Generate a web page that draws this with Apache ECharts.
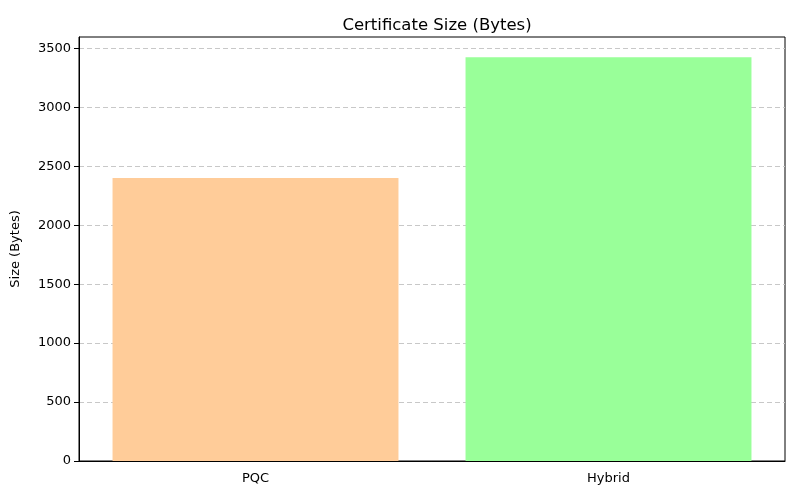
<!DOCTYPE html>
<html><head><meta charset="utf-8">
<script src="https://cdn.jsdelivr.net/npm/echarts@6/dist/echarts.min.js"></script>
<style>html,body{margin:0;padding:0;background:#fff}#c{width:800px;height:500px}</style>
</head><body><div id="c"></div>
<script>
const categories = ["PQC", "Hybrid"];
const sizes = [2400, 3425];
const barColors = ["#ffcc99", "#99ff99"];
const yTicks = [0, 500, 1000, 1500, 2000, 2500, 3000, 3500];

const chart = echarts.init(document.getElementById('c'), null, {renderer: 'canvas'});
const font = 'DejaVu Sans';
chart.setOption({
  backgroundColor: '#fff',
  animation: false,
  title: {
    text: 'Certificate Size (Bytes)', left: 432, textAlign: 'center', top: 12,
    textStyle: {fontFamily: font, fontSize: 16.5, fontWeight: 'normal', color: '#000'}
  },
  grid: {left: 79, right: 15, top: 37, bottom: 39, show: true, borderColor: '#000', borderWidth: 1, backgroundColor: 'transparent'},
  xAxis: {
    type: 'category', data: categories,
    axisLine: {lineStyle: {color: '#000', width: 1}},
    axisTick: {alignWithLabel: true, length: 5, lineStyle: {color: '#000'}},
    axisLabel: {fontFamily: font, fontSize: 13, color: '#000', margin: 11}
  },
  yAxis: {
    type: 'value', min: 0, max: sizes[1] * 1.05, interval: 500,
    name: 'Size (Bytes)', nameLocation: 'middle', nameGap: 57, nameRotate: 90,
    nameTextStyle: {fontFamily: font, fontSize: 13, color: '#000'},
    axisLine: {show: true, lineStyle: {color: '#000', width: 1}},
    axisTick: {show: true, length: 5, lineStyle: {color: '#000'},
      customValues: yTicks},
    axisLabel: {fontFamily: font, fontSize: 13, color: '#000', margin: 8,
      customValues: yTicks, formatter: v => String(v)},
    splitLine: {show: true, lineStyle: {color: '#c8c8c8', type: [5, 3], width: 1}}
  },
  series: [{
    type: 'bar', barWidth: '81%',
    data: sizes.map((v, i) => ({value: v, itemStyle: {color: barColors[i]}}))
  }]
});
</script></body></html>
